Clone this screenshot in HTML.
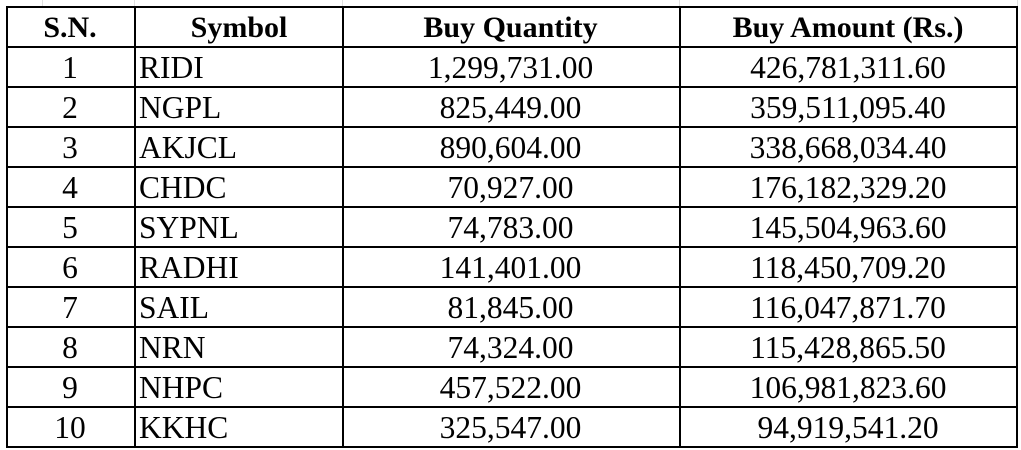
<!DOCTYPE html>
<html><head><style>
body{margin:0;width:1021px;height:450px;background:#fff;position:relative;overflow:hidden;font-family:"Liberation Serif",serif;color:#000}
.v{position:absolute;top:6px;height:441px;width:1.5px;background:#000}
.h{position:absolute;left:6px;width:1012px;height:1.5px;background:#000}
.c{position:absolute;height:40px;line-height:44px;font-size:31.5px;white-space:nowrap}
.b{font-weight:bold;font-size:30px}
.g{position:absolute;background:#e0e0e0}
</style></head><body>
<div class="g" style="left:42px;top:0;width:1px;height:6px"></div>
<div class="g" style="left:134px;top:0;width:1px;height:6px"></div>
<div class="g" style="left:342px;top:0;width:1px;height:6px"></div>
<div class="g" style="left:679px;top:0;width:1px;height:6px"></div>
<div class="g" style="left:1017px;top:0;width:1px;height:6px"></div>
<div class="v" style="left:6px"></div>
<div class="v" style="left:134px"></div>
<div class="v" style="left:342px"></div>
<div class="v" style="left:679px"></div>
<div class="v" style="left:1016px"></div>
<div id="rows"></div>
<script>
var d=[["S.N.","Symbol","Buy Quantity","Buy Amount (Rs.)"],
["1","RIDI","1,299,731.00","426,781,311.60"],
["2","NGPL","825,449.00","359,511,095.40"],
["3","AKJCL","890,604.00","338,668,034.40"],
["4","CHDC","70,927.00","176,182,329.20"],
["5","SYPNL","74,783.00","145,504,963.60"],
["6","RADHI","141,401.00","118,450,709.20"],
["7","SAIL","81,845.00","116,047,871.70"],
["8","NRN","74,324.00","115,428,865.50"],
["9","NHPC","457,522.00","106,981,823.60"],
["10","KKHC","325,547.00","94,919,541.20"]];
var cols=[[6,134],[134,342],[342,679],[679,1017]],h="";
for(var r=0;r<=11;r++)h+='<div class="h" style="top:'+(6+40*r)+'px"></div>';
d.forEach(function(row,r){row.forEach(function(t,c){
var L=cols[c][0],W=cols[c][1]-L,al=(c==1&&r>0)?'left;padding-left:5px;box-sizing:border-box':'center';
if(c==1&&r==0)al='center;padding-left:2px;box-sizing:border-box';
h+='<div class="c'+(r==0?' b':'')+'" style="left:'+L+'px;width:'+W+'px;top:'+(6+40*r)+'px;text-align:'+al+'">'+t+'</div>';});});
document.getElementById('rows').innerHTML=h;
</script>
</body></html>
